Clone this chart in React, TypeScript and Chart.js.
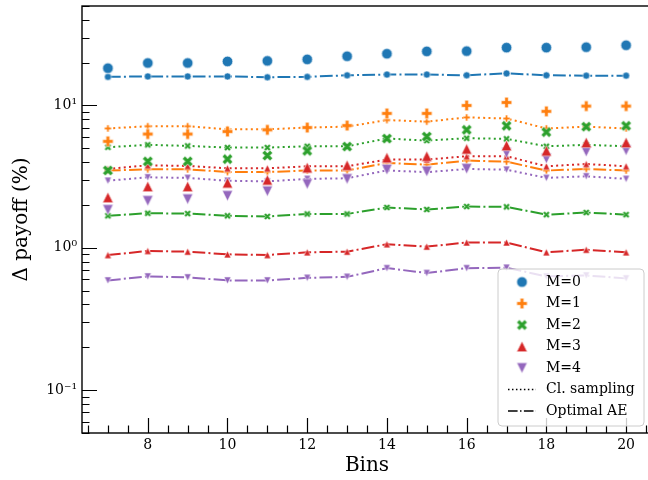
import React, { useEffect, useRef } from 'react';
import { Chart, registerables } from 'chart.js';

Chart.register(...registerables);

const FONT = "'DejaVu Serif', 'Liberation Serif', serif";

const bins = [7, 8, 9, 10, 11, 12, 13, 14, 15, 16, 17, 18, 19, 20];

const seriesLabels = ['M=0', 'M=1', 'M=2', 'M=3', 'M=4'];
const seriesColors = ['#1f77b4', '#ff7f0e', '#2ca02c', '#d62728', '#9467bd'];
const seriesShapes = ['circle', 'plus', 'x', 'triUp', 'triDown'];

const m0Points = [18.3, 19.9, 19.9, 20.4, 20.6, 21.1, 22.2, 23.1, 24.0, 24.1, 25.5, 25.5, 25.7, 26.5];
const m1Points = [5.6, 6.3, 6.3, 6.56, 6.74, 7.0, 7.23, 8.8, 8.8, 10.0, 10.5, 9.1, 9.9, 9.9];
const m2Points = [3.5, 4.05, 4.05, 4.2, 4.45, 4.8, 5.15, 5.86, 6.05, 6.75, 7.2, 6.5, 7.1, 7.2];
const m3Points = [2.26, 2.7, 2.7, 2.86, 3.0, 3.65, 3.8, 4.3, 4.4, 4.95, 5.23, 4.8, 5.5, 5.5];
const m4Points = [1.85, 2.14, 2.2, 2.32, 2.5, 2.81, 3.05, 3.55, 3.45, 3.6, 4.65, 4.25, 4.75, 4.85];

const m1ClSampling = [6.9, 7.15, 7.15, 6.8, 6.8, 7.0, 7.1, 7.9, 7.7, 8.25, 8.1, 6.9, 7.1, 6.9];
const m2ClSampling = [5.09, 5.29, 5.2, 5.06, 5.06, 5.17, 5.17, 5.86, 5.67, 5.89, 5.83, 5.17, 5.29, 5.17];
const m3ClSampling = [3.58, 3.8, 3.76, 3.62, 3.62, 3.74, 3.74, 4.17, 4.17, 4.4, 4.4, 3.74, 3.88, 3.74];
const m4ClSampling = [2.96, 3.13, 3.1, 2.96, 2.93, 3.05, 3.08, 3.5, 3.4, 3.58, 3.54, 3.1, 3.18, 3.05];

const m0OptimalAE = [15.9, 16.0, 16.0, 16.0, 15.8, 15.9, 16.3, 16.5, 16.5, 16.3, 16.8, 16.3, 16.2, 16.2];
const m1OptimalAE = [3.49, 3.56, 3.56, 3.41, 3.41, 3.49, 3.49, 3.95, 3.84, 4.1, 4.03, 3.49, 3.58, 3.49];
const m2OptimalAE = [1.68, 1.75, 1.74, 1.68, 1.66, 1.73, 1.73, 1.92, 1.86, 1.95, 1.94, 1.71, 1.77, 1.71];
const m3OptimalAE = [0.89, 0.95, 0.94, 0.9, 0.89, 0.93, 0.94, 1.06, 1.02, 1.09, 1.09, 0.93, 0.97, 0.93];
const m4OptimalAE = [0.59, 0.63, 0.62, 0.59, 0.59, 0.615, 0.625, 0.72, 0.665, 0.72, 0.725, 0.63, 0.64, 0.61];

const pointSeries = [m0Points, m1Points, m2Points, m3Points, m4Points];
const clSeries: (number[] | null)[] = [null, m1ClSampling, m2ClSampling, m3ClSampling, m4ClSampling];
const aeSeries = [m0OptimalAE, m1OptimalAE, m2OptimalAE, m3OptimalAE, m4OptimalAE];

const xTickValues = [8, 10, 12, 14, 16, 18, 20];
const yTickValues = [0.1, 1, 10];
const yTickLabels = ['10\u207B\u00B9', '10\u2070', '10\u00B9'];

const lineStyleLabels = ['Cl. sampling', 'Optimal AE'];
const DOTTED = [2, 3.3];
const DASHDOT = [12.8, 3.2, 2, 3.2];

function makeMarker(shape: string, color: string, size: number): HTMLCanvasElement {
  const dim = Math.ceil(size + 4);
  const c = document.createElement('canvas');
  c.width = dim;
  c.height = dim;
  const g = c.getContext('2d') as CanvasRenderingContext2D;
  g.translate(dim / 2, dim / 2);
  const h = size / 2;
  g.beginPath();
  const poly = (pts: number[][], k: number) => {
    pts.forEach((p, i) => {
      if (i === 0) g.moveTo(p[0] * k, p[1] * k);
      else g.lineTo(p[0] * k, p[1] * k);
    });
  };
  if (shape === 'circle') {
    g.arc(0, 0, h, 0, Math.PI * 2);
  } else if (shape === 'plus') {
    poly([[-1, -3], [1, -3], [1, -1], [3, -1], [3, 1], [1, 1], [1, 3], [-1, 3], [-1, 1], [-3, 1], [-3, -1], [-1, -1]], size / 6);
  } else if (shape === 'x') {
    poly([[-1, -2], [0, -1], [1, -2], [2, -1], [1, 0], [2, 1], [1, 2], [0, 1], [-1, 2], [-2, 1], [-1, 0], [-2, -1]], size / 4);
  } else if (shape === 'triUp') {
    poly([[0, -1], [1, 1], [-1, 1]], h);
  } else {
    poly([[0, 1], [1, -1], [-1, -1]], h);
  }
  g.closePath();
  g.fillStyle = color;
  g.fill();
  g.lineWidth = 0.8;
  g.strokeStyle = 'rgba(255,255,255,0.7)';
  g.stroke();
  return c;
}

export default function App() {
  const ref = useRef<HTMLCanvasElement | null>(null);

  useEffect(() => {
    document.body.style.margin = '0';
    const canvas = ref.current;
    if (!canvas) return;

    const bigMarkers = seriesColors.map((c, i) => makeMarker(seriesShapes[i], c, 10.5));
    const smallMarkers = seriesColors.map((c, i) => makeMarker(seriesShapes[i], c, 7));

    const toXY = (vals: number[]) => vals.map((v, i) => ({ x: bins[i], y: v }));

    const datasets: any[] = [];
    pointSeries.forEach((vals, i) => {
      datasets.push({
        label: seriesLabels[i],
        data: toXY(vals),
        showLine: false,
        pointStyle: bigMarkers[i],
        pointRadius: 5,
        borderWidth: 0,
        backgroundColor: seriesColors[i],
        borderColor: seriesColors[i],
      });
    });
    clSeries.forEach((vals, i) => {
      if (!vals) return;
      datasets.push({
        label: lineStyleLabels[0] + ' ' + seriesLabels[i],
        data: toXY(vals),
        showLine: true,
        borderColor: seriesColors[i],
        backgroundColor: seriesColors[i],
        borderWidth: 2,
        borderDash: DOTTED,
        tension: 0,
        pointStyle: smallMarkers[i],
        pointRadius: 3.5,
      });
    });
    aeSeries.forEach((vals, i) => {
      datasets.push({
        label: lineStyleLabels[1] + ' ' + seriesLabels[i],
        data: toXY(vals),
        showLine: true,
        borderColor: seriesColors[i],
        backgroundColor: seriesColors[i],
        borderWidth: 2,
        borderDash: DASHDOT,
        tension: 0,
        pointStyle: smallMarkers[i],
        pointRadius: 3.5,
      });
    });

    const axesPlugin = {
      id: 'axesDecor',
      afterDraw(chart: any) {
        const { ctx, chartArea: a, scales } = chart;
        const xs = scales.x;
        const ys = scales.y;
        ctx.save();
        ctx.strokeStyle = '#000';
        ctx.lineWidth = 1.2;
        ctx.beginPath();
        for (let v = 6.5; v <= 20.5; v += 0.5) {
          const px = Math.round(xs.getPixelForValue(v)) + 0.5;
          const len = xTickValues.includes(v) ? 15 : 7.5;
          ctx.moveTo(px, a.bottom);
          ctx.lineTo(px, a.bottom - len);
        }
        for (let e = -2; e <= 1; e++) {
          for (let d = 1; d <= 9; d++) {
            const v = d * Math.pow(10, e);
            if (v < 0.05 || v > 50) continue;
            const py = Math.round(ys.getPixelForValue(v)) + 0.5;
            const len = d === 1 ? 15 : 7.5;
            ctx.moveTo(a.left, py);
            ctx.lineTo(a.left + len, py);
          }
        }
        ctx.stroke();
        ctx.lineWidth = 1.4;
        ctx.strokeRect(a.left, a.top, a.right - a.left, a.bottom - a.top);
        ctx.restore();
      },
    };

    const legendPlugin = {
      id: 'insideLegend',
      afterDraw(chart: any) {
        const ctx = chart.ctx;
        const bx = 498, by = 269, bw = 146, bh = 157, r = 4;
        ctx.save();
        ctx.beginPath();
        ctx.moveTo(bx + r, by);
        ctx.lineTo(bx + bw - r, by);
        ctx.arcTo(bx + bw, by, bx + bw, by + r, r);
        ctx.lineTo(bx + bw, by + bh - r);
        ctx.arcTo(bx + bw, by + bh, bx + bw - r, by + bh, r);
        ctx.lineTo(bx + r, by + bh);
        ctx.arcTo(bx, by + bh, bx, by + bh - r, r);
        ctx.lineTo(bx, by + r);
        ctx.arcTo(bx, by, bx + r, by, r);
        ctx.closePath();
        ctx.fillStyle = 'rgba(255,255,255,0.8)';
        ctx.fill();
        ctx.strokeStyle = '#cccccc';
        ctx.lineWidth = 1;
        ctx.stroke();

        const rowH = 21.5;
        const y0 = 282;
        const mx = 522;
        const tx = 546;
        ctx.font = '14px ' + FONT;
        ctx.fillStyle = '#000';
        ctx.textBaseline = 'middle';
        ctx.textAlign = 'left';
        seriesLabels.forEach((lab, i) => {
          const y = y0 + i * rowH;
          const m = bigMarkers[i];
          ctx.drawImage(m, mx - m.width / 2, y - m.height / 2);
          ctx.fillText(lab, tx, y);
        });
        [DOTTED, DASHDOT].forEach((dash, j) => {
          const y = y0 + (5 + j) * rowH;
          ctx.save();
          ctx.strokeStyle = '#000';
          ctx.lineWidth = 1.5;
          ctx.setLineDash(dash.map((d) => d * 0.75));
          ctx.beginPath();
          ctx.moveTo(508, y);
          ctx.lineTo(536, y);
          ctx.stroke();
          ctx.restore();
          ctx.fillText(lineStyleLabels[j], tx, y);
        });
        ctx.restore();
      },
    };

    const chart = new Chart(canvas, {
      type: 'line',
      data: { datasets },
      options: {
        animation: false,
        responsive: false,
        devicePixelRatio: 1,
        layout: { padding: { top: 5, right: 8, left: 0, bottom: 0 } },
        plugins: { legend: { display: false }, tooltip: { enabled: false } },
        scales: {
          x: {
            type: 'linear',
            min: 6.35,
            max: 20.65,
            bounds: 'data',
            afterFit(s: any) {
              s.height = 47;
              s.paddingLeft = 0;
              s.paddingRight = 0;
            },
            afterBuildTicks(s: any) {
              s.ticks = xTickValues.map((v) => ({ value: v }));
            },
            grid: { display: false, drawTicks: false },
            border: { display: false },
            ticks: {
              font: { family: FONT, size: 14 },
              color: '#000',
              padding: 4,
              maxRotation: 0,
              autoSkip: false,
              callback: (v: any) => String(v),
            },
            title: {
              display: true,
              text: 'Bins',
              font: { family: FONT, size: 20 },
              color: '#000',
              padding: { top: 0, bottom: 2 },
            },
          },
          y: {
            type: 'logarithmic',
            min: 0.05,
            max: 50,
            bounds: 'data',
            afterFit(s: any) {
              s.width = 82;
              s.paddingTop = 0;
              s.paddingBottom = 0;
            },
            afterBuildTicks(s: any) {
              s.ticks = yTickValues.map((v) => ({ value: v }));
            },
            grid: { display: false, drawTicks: false },
            border: { display: false },
            ticks: {
              font: { family: FONT, size: 14 },
              color: '#000',
              padding: 5,
              autoSkip: false,
              callback: (v: any) => {
                const idx = yTickValues.findIndex((t) => Math.abs(t - Number(v)) < 1e-9);
                return idx >= 0 ? yTickLabels[idx] : '';
              },
            },
            title: {
              display: true,
              text: '\u0394 payoff (%)',
              font: { family: FONT, size: 20 },
              color: '#000',
              padding: { top: 10, bottom: 0 },
            },
          },
        },
      } as any,
      plugins: [axesPlugin, legendPlugin],
    });

    return () => {
      chart.destroy();
    };
  }, []);

  return (
    <div style={{ width: 648, height: 480, overflow: 'hidden', background: '#fff' }}>
      <canvas ref={ref} width={660} height={480} style={{ width: 660, height: 480, display: 'block' }} />
    </div>
  );
}
